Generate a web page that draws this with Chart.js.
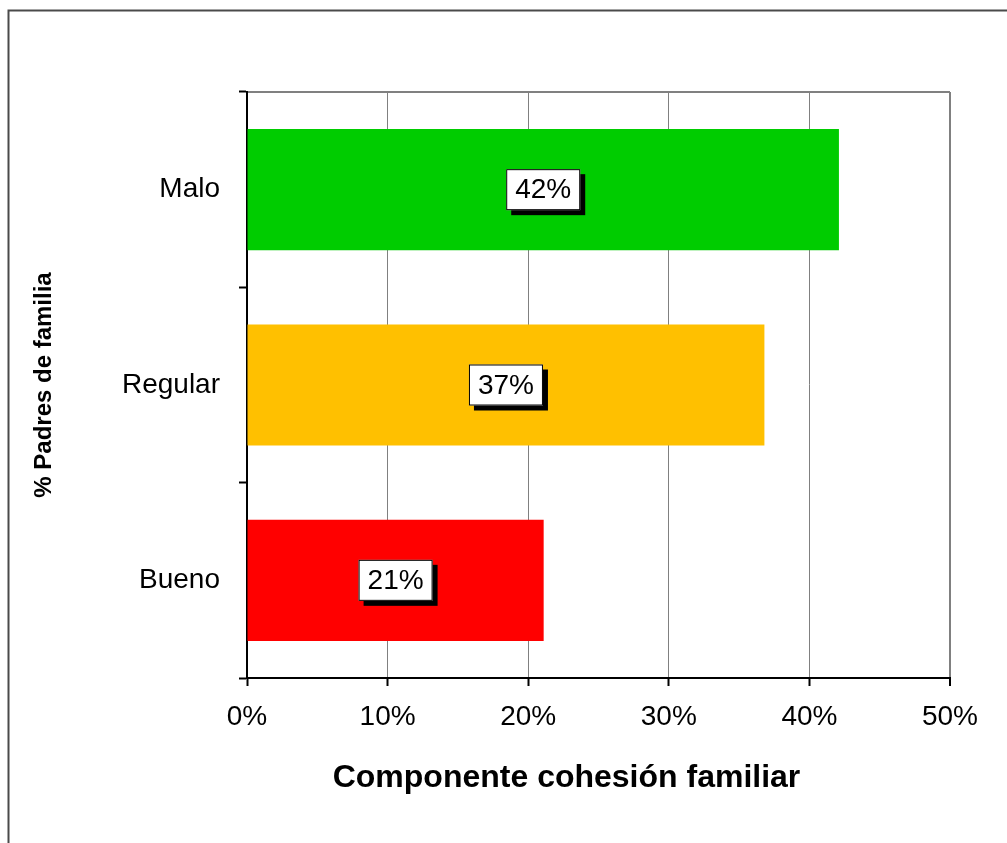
<!DOCTYPE html>
<html lang="es">
<head>
    <meta charset="UTF-8">
    <title>Componente cohesión familiar</title>
    <script src="https://cdn.jsdelivr.net/npm/chart.js"></script>
    <style>
        html, body { margin: 0; padding: 0; background: #fff; }
        #wrap { width: 1007px; height: 843px; position: relative; }
    </style>
</head>
<body>
    <div id="wrap"><canvas id="chart" width="1007" height="843"></canvas></div>
    <script>
        // data
        const categories = ['Malo', 'Regular', 'Bueno'];
        const values = [42.1, 36.8, 21.1];
        const barColors = ['#00CC00', '#FFC000', '#FF0000'];
        const xTicks = [0, 10, 20, 30, 40, 50];
        const xTitle = 'Componente cohesión familiar';
        const yTitle = '% Padres de familia';

        const font = "'Liberation Sans', Arial, sans-serif";

        // frame, top plot border, value boxes, x title (sits left of the plot centre)
        const decor = {
            id: 'decor',
            beforeDraw(chart) {
                const ctx = chart.ctx;
                const a = chart.chartArea;
                ctx.save();
                ctx.strokeStyle = '#4a4a4a';
                ctx.lineWidth = 2;
                ctx.beginPath();
                ctx.moveTo(8.5, 843);
                ctx.lineTo(8.5, 10.5);
                ctx.lineTo(1007, 10.5);
                ctx.stroke();
                ctx.strokeStyle = '#808080';
                ctx.beginPath();
                ctx.moveTo(a.left, a.top);
                ctx.lineTo(a.right, a.top);
                ctx.stroke();
                ctx.restore();
            },
            afterDatasetsDraw(chart) {
                const ctx = chart.ctx;
                const meta = chart.getDatasetMeta(0);
                ctx.save();
                ctx.font = '28px ' + font;
                ctx.textAlign = 'center';
                ctx.textBaseline = 'middle';
                meta.data.forEach((bar, i) => {
                    const txt = Math.round(values[i]) + '%';
                    const cx = (bar.base + bar.x) / 2;
                    const cy = bar.y;
                    const w = 74, h = 41;
                    ctx.fillStyle = '#000';
                    ctx.fillRect(cx - w / 2 + 5, cy - h / 2 + 5, w, h);
                    ctx.fillStyle = '#fff';
                    ctx.fillRect(cx - w / 2, cy - h / 2, w, h);
                    ctx.strokeStyle = '#000';
                    ctx.lineWidth = 1;
                    ctx.strokeRect(cx - w / 2 + 0.5, cy - h / 2 + 0.5, w - 1, h - 1);
                    ctx.fillStyle = '#000';
                    ctx.fillText(txt, cx, cy + 1);
                });
                ctx.restore();
            },
            afterDraw(chart) {
                const ctx = chart.ctx;
                const xs = chart.scales.x;
                ctx.save();
                ctx.font = 'bold 32px ' + font;
                ctx.fillStyle = '#000';
                ctx.textAlign = 'center';
                ctx.textBaseline = 'middle';
                ctx.fillText(xTitle, (xs.left + xs.right) / 2 - 32, xs.bottom - 19);
                ctx.restore();
            }
        };

        new Chart(document.getElementById('chart'), {
            type: 'bar',
            data: {
                labels: categories,
                datasets: [{
                    data: values,
                    backgroundColor: barColors,
                    borderWidth: 0,
                    barPercentage: 0.62,
                    categoryPercentage: 1
                }]
            },
            options: {
                indexAxis: 'y',
                responsive: false,
                animation: false,
                layout: { padding: { top: 92, right: 57, bottom: 46, left: 0 } },
                plugins: {
                    legend: { display: false },
                    tooltip: { enabled: false }
                },
                scales: {
                    x: {
                        min: 0,
                        max: 50,
                        afterBuildTicks(scale) {
                            scale.ticks = xTicks.map(v => ({ value: v }));
                        },
                        afterFit(scale) { scale.height = 119; },
                        ticks: {
                            callback: v => v + '%',
                            color: '#000',
                            font: { family: font, size: 28 },
                            padding: 14,
                            maxRotation: 0
                        },
                        grid: {
                            color: '#808080',
                            lineWidth: c => c.index === xTicks.length - 1 ? 2 : 1,
                            tickColor: '#000',
                            tickLength: 8,
                            tickWidth: 2
                        },
                        border: { color: '#000', width: 2 },
                        title: { display: false }
                    },
                    y: {
                        afterFit(scale) { scale.width = 247; },
                        ticks: {
                            color: '#000',
                            font: { family: font, size: 28 },
                            padding: 19
                        },
                        grid: {
                            offset: true,
                            drawOnChartArea: false,
                            tickColor: '#000',
                            tickLength: 8,
                            tickWidth: 2
                        },
                        border: { color: '#000', width: 2 },
                        title: {
                            display: true,
                            text: yTitle,
                            color: '#000',
                            font: { family: font, size: 24, weight: 'bold' },
                            padding: { top: 30, bottom: 0 }
                        }
                    }
                }
            },
            plugins: [decor]
        });
    </script>
</body>
</html>
